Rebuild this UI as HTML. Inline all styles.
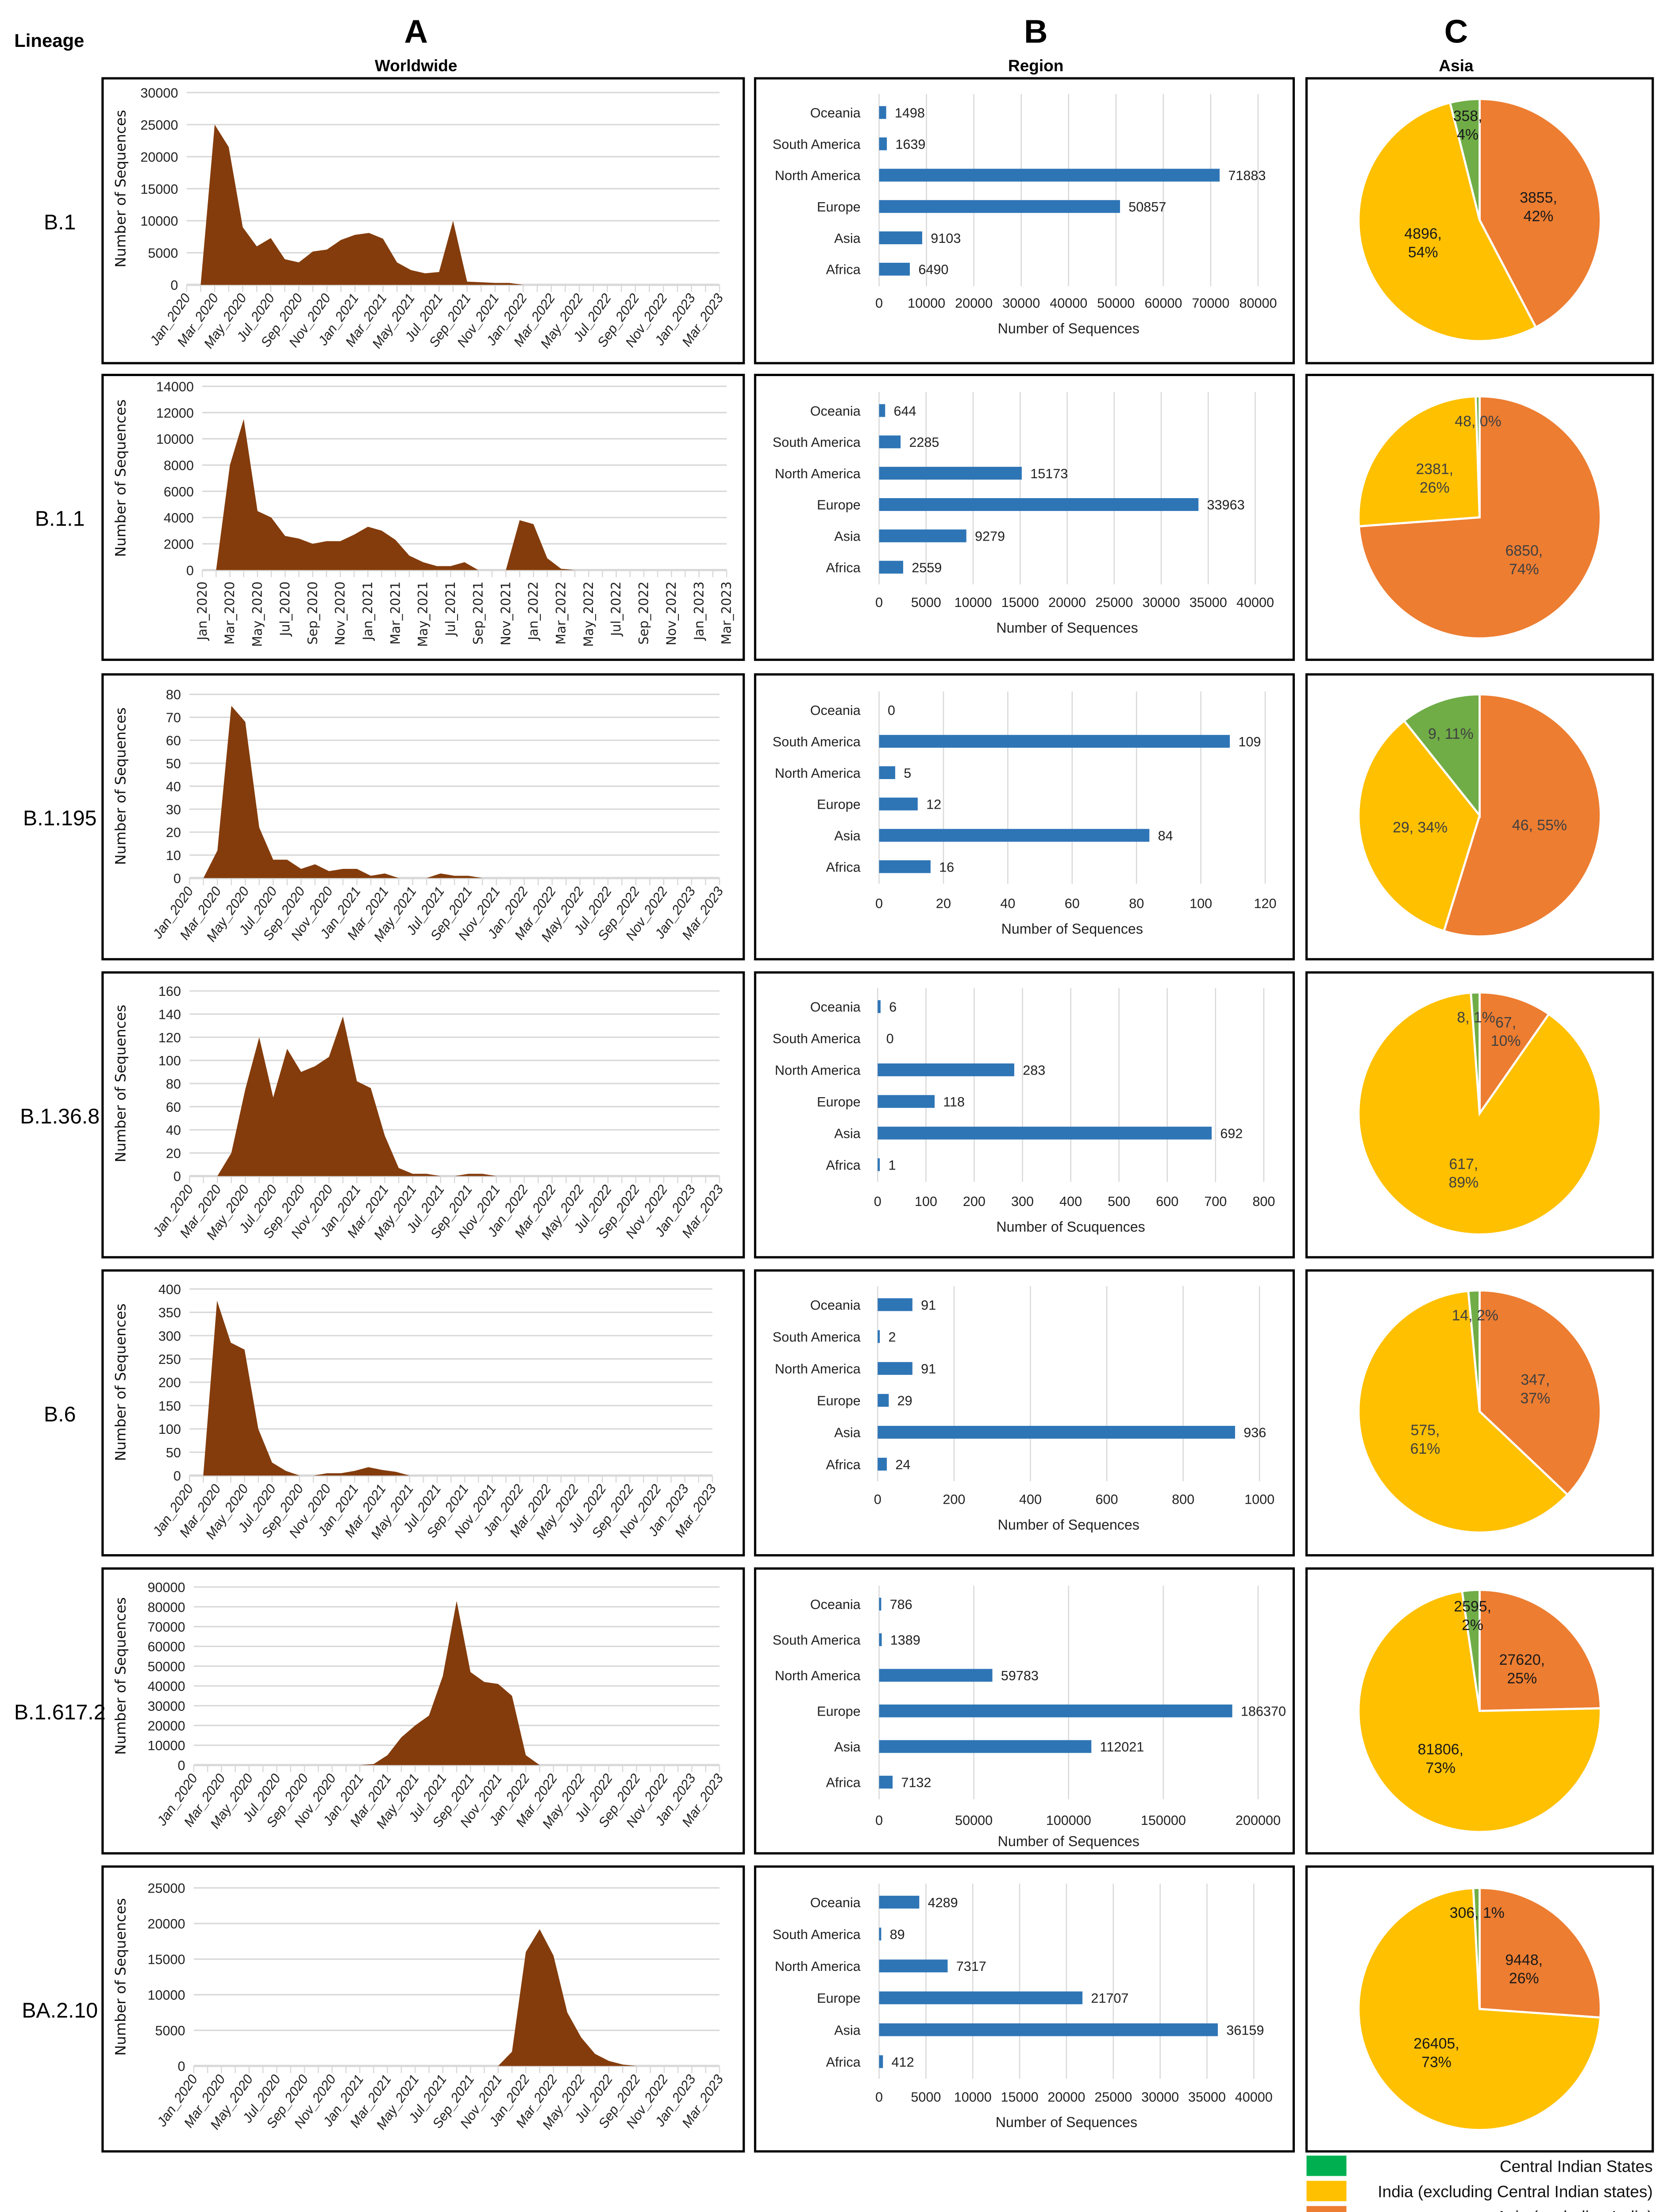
<!DOCTYPE html>
<html><head><meta charset="utf-8">
<style>
html,body{margin:0;padding:0;background:#fff;overflow:hidden;width:3767px;height:5067px;}
svg{display:block;position:absolute;left:0;top:0;font-family:"Liberation Sans",sans-serif;}
</style></head>
<body>
<svg id="fig" xmlns="http://www.w3.org/2000/svg" width="3767" height="5067" viewBox="0 0 1170 1574" preserveAspectRatio="none">
<rect x="0" y="0" width="1170" height="1574" fill="#fff"/>
</svg>
<script>
// ---------- data ----------
const lineages = ["B.1","B.1.1","B.1.195","B.1.36.8","B.6","B.1.617.2","BA.2.10"];
const monthLabels = ["Jan_2020","Mar_2020","May_2020","Jul_2020","Sep_2020","Nov_2020","Jan_2021","Mar_2021","May_2021","Jul_2021","Sep_2021","Nov_2021","Jan_2022","Mar_2022","May_2022","Jul_2022","Sep_2022","Nov_2022","Jan_2023","Mar_2023"];
const ts1 = [0,0,25000,21500,9000,6000,7300,4000,3500,5200,5500,7000,7800,8100,7200,3500,2300,1800,2000,10000,500,400,300,300,0];
const ts2 = [0,0,8000,11500,4500,4000,2600,2400,2000,2200,2200,2700,3300,3000,2300,1100,600,300,300,600,0,0,0,3800,3500,900,100,0];
const ts3 = [0,0,12,75,68,22,8,8,4,6,3,4,4,1,2,0,0,0,2,1,1,0];
const ts4 = [0,0,0,20,75,120,68,110,90,95,103,138,82,76,35,7,2,2,0,0,2,2,0];
const ts5 = [0,0,375,285,270,100,28,10,0,0,5,5,10,18,12,8,0];
const ts6 = [0,0,0,0,0,0,0,0,0,0,0,0,0,500,5000,14000,20000,25000,45000,83000,47000,42000,41000,35000,5000,0];
const ts7 = [0,0,0,0,0,0,0,0,0,0,0,0,0,0,0,0,0,0,0,0,0,0,0,2000,16000,19200,15500,7500,4000,1700,700,200,0];
const tsMax = [30000,14000,80,160,400,90000,25000];
const tsStep = [5000,2000,10,20,50,10000,5000];

const regions = ["Oceania","South America","North America","Europe","Asia","Africa"];
const reg1 = [1498,1639,71883,50857,9103,6490];
const reg2 = [644,2285,15173,33963,9279,2559];
const reg3 = [0,109,5,12,84,16];
const reg4 = [6,0,283,118,692,1];
const reg5 = [91,2,91,29,936,24];
const reg6 = [786,1389,59783,186370,112021,7132];
const reg7 = [4289,89,7317,21707,36159,412];
const regMax = [80000,40000,120,800,1000,200000,40000];
const regStep = [10000,5000,20,100,200,50000,5000];
const regTitle = ["Number of Sequences","Number of Sequences","Number of Sequences","Number of Scuquences","Number of Sequences","Number of Sequences","Number of Sequences"];

// pie: [Asia excl India, India excl central, Central Indian]
const pie1 = [3855,4896,358];
const pie2 = [6850,2381,48];
const pie3 = [46,29,9];
const pie4 = [67,617,8];
const pie5 = [347,575,14];
const pie6 = [27620,81806,2595];
const pie7 = [9448,26405,306];
const piePct1 = ["42%","54%","4%"];
const piePct2 = ["74%","26%","0%"];
const piePct3 = ["55%","34%","11%"];
const piePct4 = ["10%","89%","1%"];
const piePct5 = ["37%","61%","2%"];
const piePct6 = ["25%","73%","2%"];
const piePct7 = ["26%","73%","1%"];

const TS=[ts1,ts2,ts3,ts4,ts5,ts6,ts7];
const REG=[reg1,reg2,reg3,reg4,reg5,reg6,reg7];
const PIE=[pie1,pie2,pie3,pie4,pie5,pie6,pie7];
const PCT=[piePct1,piePct2,piePct3,piePct4,piePct5,piePct6,piePct7];

// ---------- layout ----------
const NS="http://www.w3.org/2000/svg";
const svg=document.getElementById('fig');
function mk(tag,attrs,parent,text){const e=document.createElementNS(NS,tag);for(const k in attrs)e.setAttribute(k,attrs[k]);if(text!==undefined)e.textContent=text;(parent||svg).appendChild(e);return e;}

const rowTop=[55,262,471,679,887,1095,1303];
const rowShift=1.27;
const rowH=200;
const panels=[[72,522],[530,908],[917,1160]];
const plotA=[[131,505,65,200],[142,510,270,399],[133,505,485,614],[133,505,692,822],[133,500,900,1031],[136,505,1108,1233],[136,505,1318,1443]];
const barY0=[79,287,496,703,911,1120,1328];
const barGap=[22,22,22,22.2,22.4,25,22.4];
const barX=[[617,883],[617,881],[617,888],[616,887],[616,884],[617,883],[617,880]];
const barLbl=[213,422,632,840,1048,1272,1465];
const barTtl=[231,440,650,858,1066,1287,1483];
const pieC=[[1038.5,154.5],[1038.5,362],[1038.5,570],[1038.5,778],[1038.5,986],[1038.5,1195],[1038.5,1403]];
const pieR=85;
const pieCol=["#ED7D31","#FFC000","#70AD47"];
const pieTxtCol=["#1a1a1a","#404040","#404040","#404040","#404040","#1a1a1a","#1a1a1a"];
const pieOneLine=[[false,false,false],[false,false,true],[true,true,true],[false,false,true],[false,false,true],[false,false,false],[false,false,true]];

// headers
let t;
t=mk('text',{x:10,y:33,'font-size':13,'font-weight':'bold'},svg,'Lineage');

[['A',292,'Worldwide'],['B',727,'Region'],['C',1022,'Asia']].forEach((h)=>{
  let a=mk('text',{x:h[1],y:30,'font-size':23,'font-weight':'bold','text-anchor':'middle'},svg,h[0]);
  
  let b=mk('text',{x:h[1],y:50,'font-size':11.5,'font-weight':'bold','text-anchor':'middle'},svg,h[2]);
  
});

for(let r=0;r<7;r++){
  const top=rowTop[r];
  const row=mk('g',{transform:`translate(0,${(r*rowShift).toFixed(2)})`});
  
  let ll=mk('text',{x:42,y:top+rowH/2+6,'font-size':15,'text-anchor':'middle'},row,lineages[r]);
  
  panels.forEach((p,i)=>{
    let bx=mk('rect',{x:p[0],y:top,width:p[1]-p[0],height:rowH,fill:'none',stroke:'#000','stroke-width':1.6},row);
    
  });

  // ----- Panel A: area chart -----
  const [x0,x1,yT,yB]=plotA[r];
  const mx=tsMax[r], st=tsStep[r];
  const xs=i=>x0+i*(x1-x0)/38;
  const ys=v=>yB-(v/mx)*(yB-yT);
  const gA=mk('g',{},row);
  
  for(let v=0;v<=mx+1e-9;v+=st){
    let gl=mk('line',{x1:x0,x2:x1,y1:ys(v),y2:ys(v),stroke:'#d9d9d9','stroke-width':v===0?1.6:1},gA);
    
    let tl=mk('text',{x:x0-6,y:ys(v)+3.5,'font-size':9.5,'text-anchor':'end',fill:'#222'},gA,String(v));
    
  }
  for(let i=0;i<=38;i++){
    let tk=mk('line',{x1:xs(i),x2:xs(i),y1:yB,y2:yB+5,stroke:'#d9d9d9','stroke-width':0.8},gA);
    
  }
  const data=TS[r];
  let d='M'+xs(0)+','+yB;
  data.forEach((v,i)=>{d+=' L'+xs(i)+','+ys(v);});
  d+=' L'+xs(data.length-1)+','+yB+' Z';
  let ar=mk('path',{d:d,fill:'#843C0C'},gA);
  
  monthLabels.forEach((m,k)=>{
    const xx=xs(k*2);
    let lab;
    if(r===1){
      lab=mk('text',{transform:`translate(${xx+3},${yB+8}) rotate(-90)`,'font-size':9,'font-family':'DejaVu Sans, sans-serif','text-anchor':'end',fill:'#222'},gA,m);
    } else {
      lab=mk('text',{transform:`translate(${xx+3},${yB+9}) rotate(-55)`,'font-size':9.5,'font-style':'italic','text-anchor':'end',fill:'#222'},gA,m);
    }
    
  });
  let yt=mk('text',{transform:`translate(${88},${(yT+yB)/2}) rotate(-90)`,'font-size':10,'text-anchor':'middle','font-family':'DejaVu Sans, sans-serif',fill:'#111'},gA,'Number of Sequences');
  

  // ----- Panel B: bar chart -----
  const gB=mk('g',{},row);
  
  const [bx0,bx1]=barX[r];
  const bM=regMax[r], bS=regStep[r];
  const bxs=v=>bx0+(v/bM)*(bx1-bx0);
  const gTop=barY0[r]-13, gBot=barY0[r]+5*barGap[r]+12;
  for(let v=0;v<=bM+1e-9;v+=bS){
    let gl=mk('line',{x1:bxs(v),x2:bxs(v),y1:gTop,y2:gBot,stroke:'#d9d9d9','stroke-width':0.8},gB);
    
    let tl=mk('text',{x:bxs(v),y:barLbl[r]+3,'font-size':9.5,'text-anchor':'middle',fill:'#222'},gB,String(v));
    
  }
  REG[r].forEach((v,i)=>{
    const cy=barY0[r]+i*barGap[r];
    let cl=mk('text',{x:604,y:cy+3.5,'font-size':9.5,'text-anchor':'end',fill:'#222'},gB,regions[i]);
    
    const w=Math.max(bxs(v)-bx0, v>0?1.5:0);
    let br=mk('rect',{x:bx0,y:cy-4.5,width:w,height:9,fill:'#2E75B6'},gB);
    
    let vl=mk('text',{x:bx0+w+6,y:cy+3.5,'font-size':9.5,fill:'#222'},gB,String(v));
    
  });
  let bt=mk('text',{x:(bx0+bx1)/2,y:barTtl[r]+3,'font-size':10,'text-anchor':'middle',fill:'#222'},gB,regTitle[r]);
  

  // ----- Panel C: pie -----
  const gC=mk('g',{},row);
  
  const [cx,cy]=pieC[r];
  const vals=PIE[r];const tot=vals.reduce((a,b)=>a+b,0);
  let a0=0;
  vals.forEach((v,i)=>{
    const a1=a0+v/tot*2*Math.PI;
    const p0=[cx+pieR*Math.sin(a0),cy-pieR*Math.cos(a0)];
    const p1=[cx+pieR*Math.sin(a1),cy-pieR*Math.cos(a1)];
    const large=(a1-a0)>Math.PI?1:0;
    let sl=mk('path',{d:`M${cx},${cy} L${p0[0]},${p0[1]} A${pieR},${pieR} 0 ${large} 1 ${p1[0]},${p1[1]} Z`,fill:pieCol[i],stroke:'#fff','stroke-width':1.5},gC);
    
    a0=a1;
  });
  a0=0;
  vals.forEach((v,i)=>{
    const frac=v/tot;
    const am=a0+frac*Math.PI;
    const rr=frac<0.06?pieR*0.8:(frac<0.15?pieR*0.72:pieR*0.5);
    const lx=cx+rr*Math.sin(am), ly=cy-rr*Math.cos(am);
    const one=pieOneLine[r][i];
    let lt;
    if(one){
      lt=mk('text',{x:lx,y:ly+4,'font-size':10.5,'text-anchor':'middle',fill:pieTxtCol[r]},gC,v+', '+PCT[r][i]);
    } else {
      lt=mk('text',{x:lx,y:ly-2,'font-size':10.5,'text-anchor':'middle',fill:pieTxtCol[r]},gC);
      mk('tspan',{x:lx,dy:0},lt,v+',');
      mk('tspan',{x:lx,dy:13},lt,PCT[r][i]);
    }
    
    a0+=frac*2*Math.PI;
  });
}

// legend
const legTxt=["Central Indian States","India (excluding Central Indian states)","Asia (excluding India)"];
const legCol=["#00B050","#FFC000","#ED7D31"];
legTxt.forEach((s,i)=>{
  const y=1513.6+i*17.7;
  let sw=mk('rect',{x:917,y:y,width:28,height:14.3,fill:legCol[i]});
  
  let lt=mk('text',{x:1160,y:y+11.5,'font-size':11.5,'text-anchor':'end',fill:'#111'},svg,s);
  
});
</script>
</body></html>
